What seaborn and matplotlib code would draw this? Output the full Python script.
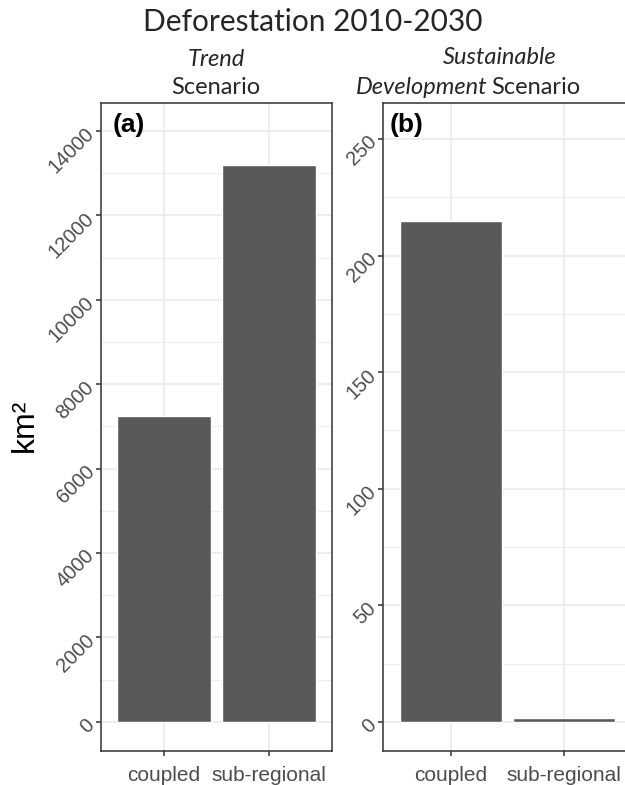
import seaborn as sns
import matplotlib
matplotlib.use("Agg")
import matplotlib.pyplot as plt
from matplotlib.ticker import MultipleLocator
import pandas as pd

# values (km2)
methods = ["coupled", "sub-regional"]
trend_vals = [7250, 13200]
sds_vals = [215, 1.7]
trend_ticks = [0, 2000, 4000, 6000, 8000, 10000, 12000, 14000]
sds_ticks = [0, 50, 100, 150, 200, 250]

bar_col = "#595959"
grid_col = "#EBEBEB"
border_col = "#333333"
tick_col = "#4D4D4D"

sns.set_style("white")
plt.rcParams['font.family'] = ['Liberation Sans', 'DejaVu Sans']

fig = plt.figure(figsize=(6.25, 7.85), dpi=100)
ax_a = fig.add_axes([101/625, 1-751/785, 231/625, 648/785])
ax_b = fig.add_axes([383/625, 1-751/785, 249/625, 648/785])

df_a = pd.DataFrame(dict(method=methods, km2=trend_vals))
df_b = pd.DataFrame(dict(method=methods, km2=sds_vals))

panels = [
    (ax_a, df_a, trend_ticks, 1000, (-690, 14660), "(a)", 0.052),
    (ax_b, df_b, sds_ticks, 25, (-12.4, 265.4), "(b)", 0.026),
]
for ax, df, ticks, minor, ylim, lab, lx in panels:
    sns.barplot(data=df, x="method", y="km2", color=bar_col, saturation=1,
                width=0.9, ax=ax, zorder=3)
    ax.set_xlim(-0.6, 1.6)
    ax.set_ylim(*ylim)
    ax.set_yticks(ticks)
    ax.yaxis.set_minor_locator(MultipleLocator(minor))
    ax.set_axisbelow(True)
    ax.grid(which="major", color=grid_col, lw=1.2, zorder=0)
    ax.grid(which="minor", axis="y", color=grid_col, lw=0.6, zorder=0)
    ax.set_xlabel("")
    ax.set_ylabel("")
    for s in ax.spines.values():
        s.set_color(border_col)
        s.set_linewidth(1.1)
        s.set_visible(True)
    ax.tick_params(axis="both", which="major", length=3.5, width=1.1,
                   color=border_col, labelcolor=tick_col, labelsize=14.5,
                   direction="out", left=True, bottom=True)
    ax.tick_params(axis="x", labelsize=15, pad=7)
    ax.tick_params(axis="y", which="minor", length=0)
    for t in ax.get_yticklabels():
        t.set_rotation(45)
        t.set_ha("right")
        t.set_va("center")
        t.set_rotation_mode("anchor")
    ax.text(lx, 0.985, lab, transform=ax.transAxes, ha="left", va="top",
            fontsize=19, fontweight="bold", color="black")

fig.text(25/625, 1-425/785, "km²", rotation=90, ha="center", va="center",
         fontsize=23, color="black")

# title and strip labels
tfont = ['Lato', 'DejaVu Sans']
fig.text(0.5, 1-22/785, "Deforestation 2010-2030", ha="center", va="center",
         fontsize=21.5, family=tfont)
fig.text(216/625, 1-59/785, "Trend", ha="center", va="center", fontsize=17,
         style="italic", family=tfont)
fig.text(216/625, 1-88/785, "Scenario", ha="center", va="center", fontsize=17,
         family=tfont)
fig.text(500/625, 1-57/785, "Sustainable", ha="center", va="center",
         fontsize=17, style="italic", family=tfont)
fig.text(487/625, 1-88/785, "Development", ha="right", va="center",
         fontsize=17, style="italic", family=tfont)
fig.text(491/625, 1-88/785, "Scenario", ha="left", va="center", fontsize=17,
         family=tfont)

fig.savefig("out.png", dpi=100)
